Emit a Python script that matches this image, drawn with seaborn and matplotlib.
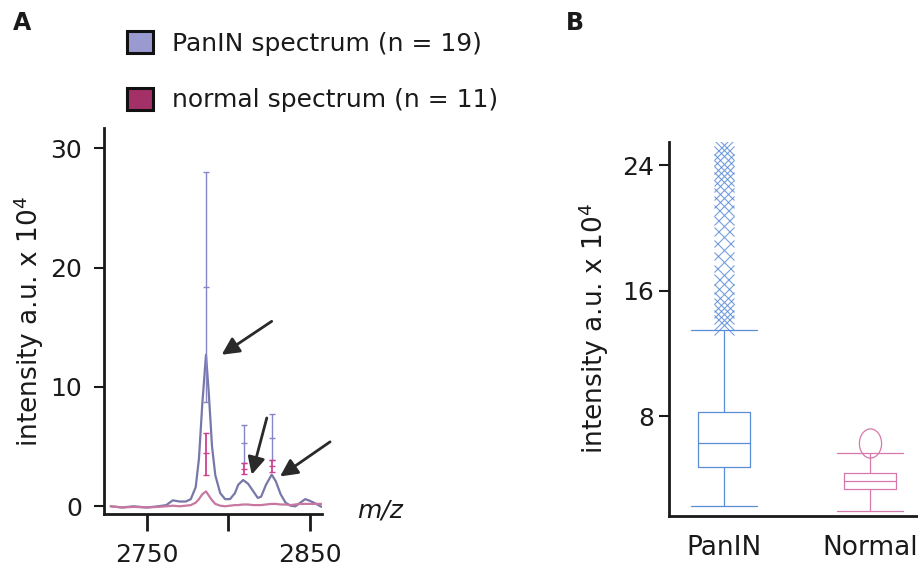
import matplotlib.pyplot as plt
import numpy as np
import pandas as pd
import seaborn as sns
from matplotlib.patches import Patch
from matplotlib.path import Path

# ---- panel A: mean spectra around m/z 2790 ----
mz = [2728, 2735, 2742, 2750, 2757, 2762, 2766, 2770, 2774, 2777, 2780, 2782,
      2784, 2786.3, 2788, 2790, 2792, 2795, 2798, 2801, 2804, 2806, 2809, 2812,
      2815, 2818, 2820, 2823, 2826.5, 2829, 2832, 2835, 2838, 2841, 2844, 2847,
      2850, 2853, 2857]
panin_int = [0.0, -0.1, 0.0, -0.1, 0.0, 0.1, 0.5, 0.4, 0.4, 0.6, 1.6, 4.0,
             8.5, 12.7, 9.5, 5.0, 2.6, 1.1, 0.6, 0.6, 1.1, 1.8, 2.2, 1.9,
             1.3, 0.7, 0.8, 1.8, 2.65, 2.1, 1.0, 0.3, 0.05, 0.0, 0.3, 0.6,
             0.45, 0.25, -0.05]
normal_int = [0.0, -0.1, -0.05, -0.1, -0.05, 0.0, 0.05, 0.0, 0.05, 0.1, 0.3, 0.6,
              1.0, 1.25, 0.9, 0.5, 0.2, 0.05, 0.0, 0.05, 0.1, 0.1, 0.15, 0.15,
              0.1, 0.1, 0.1, 0.15, 0.2, 0.2, 0.15, 0.15, 0.1, 0.15, 0.2, 0.2,
              0.2, 0.2, 0.2]

# error bars at the three peaks (low end, middle mark, high end)
err_mz = [2786.3, 2809.5, 2826.5]
panin_err_lo = [8.7, 3.6, 3.9]
panin_err_mid = [18.4, 5.3, 5.7]
panin_err_hi = [28.0, 6.8, 7.7]
normal_err_lo = [2.65, 2.7, 2.9]
normal_err_mid = [4.5, 3.15, 3.4]
normal_err_hi = [6.1, 3.6, 3.9]

# arrows (tail -> head) in data coordinates
arrow_tail = [(2826.5, 15.5), (2823.5, 7.4), (2862.2, 5.4)]
arrow_head = [(2795.9, 12.7), (2814.3, 2.65), (2831.6, 2.5)]

# ---- panel B: box plot summary ----
groups = ['PanIN', 'Normal']
# whisker low, Q1, median, Q3, whisker high
panin_box = [2.26, 4.77, 6.3, 8.27, 13.44]
normal_box = [1.96, 3.33, 3.86, 4.35, 5.66]
panin_fliers = [13.5, 13.8, 14.1, 14.5, 14.9, 15.3, 15.8, 16.4, 17.0, 17.8,
                18.6, 19.4, 20.1, 20.8, 21.4, 21.9, 22.4, 22.9, 23.3, 23.7,
                24.1, 24.6, 25.0, 25.3]
normal_fliers = [6.3]

# repeat counts so the library's quartiles land on the read values
panin_counts = [1, 60, 60, 55, 1]
normal_counts = [1, 7, 6, 5, 1]
panin_sample = list(np.repeat(panin_box, panin_counts)) + panin_fliers
normal_sample = list(np.repeat(normal_box, normal_counts)) + normal_fliers

sns.set_theme(style='ticks')
plt.rcParams['font.family'] = ['DejaVu Sans']
plt.rcParams['axes.edgecolor'] = '#1a1a1a'
plt.rcParams['text.color'] = '#1a1a1a'
plt.rcParams['xtick.color'] = '#1a1a1a'
plt.rcParams['ytick.color'] = '#1a1a1a'
plt.rcParams['axes.labelcolor'] = '#1a1a1a'

fig = plt.figure(figsize=(9.18, 5.68), dpi=100)

# ---------- panel A ----------
axA = fig.add_axes([0.1133, 0.0950, 0.2375, 0.6796])
spec = pd.DataFrame({
    'mz': mz * 2,
    'intensity': panin_int + normal_int,
    'group': ['PanIN'] * len(mz) + ['normal'] * len(mz),
})
sns.lineplot(data=spec, x='mz', y='intensity', hue='group',
             palette={'PanIN': '#7878a8', 'normal': '#c878a0'},
             linewidth=1.6, legend=False, ax=axA)

axA.errorbar(err_mz, panin_err_mid,
             yerr=[np.subtract(panin_err_mid, panin_err_lo),
                   np.subtract(panin_err_hi, panin_err_mid)],
             fmt='_', color='#8585c8', ms=5, capsize=2, elinewidth=1, zorder=3)
axA.errorbar(err_mz, normal_err_mid,
             yerr=[np.subtract(normal_err_mid, normal_err_lo),
                   np.subtract(normal_err_hi, normal_err_mid)],
             fmt='_', color='#d04090', ms=5, capsize=2, elinewidth=1.3, zorder=4)

for tail, head in zip(arrow_tail, arrow_head):
    axA.annotate('', xy=head, xytext=tail,
                 arrowprops=dict(arrowstyle='-|>', color='#2a2a2a', lw=2,
                                 mutation_scale=26, shrinkA=0, shrinkB=0),
                 annotation_clip=False)

axA.set_xlim(2723.9, 2857.3)
axA.set_ylim(-0.65, 31.7)
axA.set_yticks([0, 10, 20, 30])
axA.set_xticks([2750, 2800, 2850])
axA.set_xticklabels(['2750', '', '2850'])
axA.tick_params(axis='y', labelsize=18, length=7, width=1.5, pad=9)
axA.tick_params(axis='x', labelsize=18, length=12, width=2, pad=9)
axA.set_xlabel('')
axA.set_ylabel('intensity a.u. x 10$^4$', fontsize=19, labelpad=3)
for s in ['left', 'bottom']:
    axA.spines[s].set_linewidth(2)
sns.despine(ax=axA)
fig.text(357 / 918, 1 - 510 / 568, 'm/z', fontsize=18, style='italic',
         va='center', ha='left')

handles = [Patch(facecolor='#9a9ad0', edgecolor='#111111', linewidth=2.2),
           Patch(facecolor='#a33066', edgecolor='#111111', linewidth=2.2)]
fig.legend(handles, ['PanIN spectrum (n = 19)', 'normal spectrum (n = 11)'],
           loc='upper left', bbox_to_anchor=(127 / 918, 1 - 31 / 568),
           frameon=False, fontsize=18, handlelength=1.05, handleheight=1.0,
           handletextpad=0.75, labelspacing=1.27, borderaxespad=0, borderpad=0)

# ---------- panel B ----------
circle = Path.unit_circle()
tall_ring = Path(circle.vertices * [0.76, 1.0], circle.codes)

axB = fig.add_axes([0.7288, 0.0915, 0.27, 0.659])
sns.boxplot(x=['PanIN'] * len(panin_sample), y=panin_sample, order=groups,
            fill=False, color='#5a8fd8', linewidth=0.9, width=0.352,
            capwidths=0.45,
            flierprops=dict(marker='x', markersize=15, markeredgewidth=0.8,
                            markeredgecolor='#4a82d4', alpha=0.75),
            ax=axB)
sns.boxplot(x=['Normal'] * len(normal_sample), y=normal_sample, order=groups,
            fill=False, color='#d678aa', linewidth=0.9, width=0.352,
            capwidths=0.45,
            flierprops=dict(marker=tall_ring, markersize=21, markeredgewidth=0.9,
                            markeredgecolor='#d678aa', markerfacecolor='none'),
            ax=axB)
axB.set_xlim(-0.375, 1.32)
axB.set_ylim(1.63, 25.5)
axB.set_yticks([8, 16, 24])
axB.set_xticks([0, 1])
axB.set_xticklabels(groups)
axB.tick_params(axis='y', labelsize=18, length=7, width=1.5, pad=4)
axB.tick_params(axis='x', labelsize=19, length=0, pad=14)
axB.set_xlabel('')
axB.set_ylabel('intensity a.u. x 10$^4$', fontsize=19, labelpad=8)
for s in ['left', 'bottom']:
    axB.spines[s].set_linewidth(2)
sns.despine(ax=axB)

fig.text(13 / 918, 1 - 23 / 568, 'A', fontsize=17, fontweight='bold',
         va='center', ha='left')
fig.text(566 / 918, 1 - 23 / 568, 'B', fontsize=17, fontweight='bold',
         va='center', ha='left')

fig.savefig('out.png', dpi=100)
